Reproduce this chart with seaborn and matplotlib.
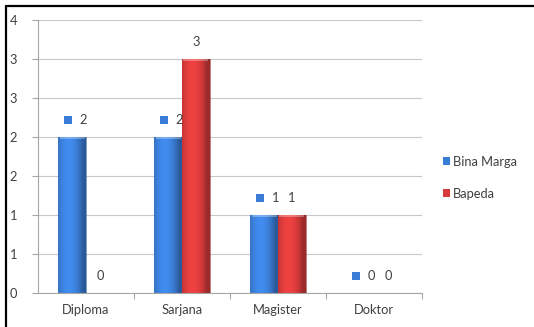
import numpy as np
import pandas as pd
import matplotlib
matplotlib.use("Agg")
import matplotlib.pyplot as plt
from matplotlib.patches import Patch
from matplotlib.lines import Line2D
import seaborn as sns

# Education level counts per institution
categories = ["Diploma", "Sarjana", "Magister", "Doktor"]
bina_marga = [2, 2, 1, 0]
bapeda = [0, 3, 1, 0]
series_names = ["Bina Marga", "Bapeda"]
ytick_values = [0, 0.5, 1, 1.5, 2, 2.5, 3, 3.5]
ytick_labels = ["0", "1", "1", "2", "2", "3", "3", "4"]

df = pd.DataFrame({
    "Pendidikan": categories * 2,
    "Jumlah": bina_marga + bapeda,
    "Instansi": [series_names[0]] * len(categories) + [series_names[1]] * len(categories),
})

sns.set_theme(style="white")
plt.rcParams["font.family"] = ["Lato", "DejaVu Sans"]

base_colors = {"Bina Marga": "#3a7dd6", "Bapeda": "#d63a3a"}
text_color = "#404040"
fs = 9.3

fig = plt.figure(figsize=(5.34, 3.27), dpi=100)
ax = fig.add_axes([38 / 534, 34 / 327, 384 / 534, 273 / 327])

sns.barplot(data=df, x="Pendidikan", y="Jumlah", hue="Instansi",
            hue_order=series_names, order=categories,
            palette=base_colors, width=0.58, gap=0, ax=ax,
            errorbar=None, legend=False, saturation=1)

ax.set_xlim(-0.5, len(categories) - 0.5)
ax.set_ylim(0, 3.5)

# Shaded, bevelled look for each bar
def shade(hex_color, dark, light):
    c = np.array(matplotlib.colors.to_rgb(hex_color))
    xs = np.linspace(0, 1, 64)
    prof = 1 - 0.9 * (xs - 0.38) ** 2 * 4
    prof = np.clip(prof, 0, 1)
    rows = [np.clip(c * (dark + (light - dark) * p), 0, 1) for p in prof]
    return np.array([rows])

bar_patches = [p for p in ax.patches if p.get_height() > 0]
for p in bar_patches:
    col = matplotlib.colors.to_hex(p.get_facecolor())
    grad = shade(col, 0.72, 1.12)
    x0, y0 = p.get_x(), p.get_y()
    w, h = p.get_width(), p.get_height()
    im = ax.imshow(grad, extent=[x0, x0 + w, y0, y0 + h], aspect="auto",
                   origin="lower", zorder=p.get_zorder() + 0.1, interpolation="bicubic")
    im.set_clip_path(p)
    # top bevel highlight
    ax.plot([x0 + w * 0.05, x0 + w * 0.95], [y0 + h - 0.012, y0 + h - 0.012],
            color="white", alpha=0.35, lw=1.2, zorder=p.get_zorder() + 0.2,
            solid_capstyle="butt")
    p.set_edgecolor(matplotlib.colors.to_rgba("black", 0.25))
    p.set_linewidth(0.5)

ax.set_xlim(-0.5, len(categories) - 0.5)
ax.set_ylim(0, 3.5)

# Value labels
bar_w = 0.58 / 2
lift = matplotlib.transforms.ScaledTranslation(0, 12.3 / 72, fig.dpi_scale_trans)
for i, (a, b) in enumerate(zip(bina_marga, bapeda)):
    xa = i - bar_w / 2
    xb = i + bar_w / 2
    ax.annotate(str(a), (xa, a), xytext=(8, 12.3), textcoords="offset points",
                ha="center", va="center", fontsize=fs, color=text_color)
    ax.plot([xa - 0.045], [a], marker="s", markersize=5.4,
            color=base_colors["Bina Marga"], markeredgewidth=0,
            transform=ax.transData + lift, clip_on=False, zorder=5)
    ax.annotate(str(b), (xb, b), xytext=(0, 12.3), textcoords="offset points",
                ha="center", va="center", fontsize=fs, color=text_color)

# Axes styling
ax.set_yticks(ytick_values)
ax.set_yticklabels(ytick_labels)
ax.yaxis.grid(True, color="#c8c8c8", linewidth=0.8)
ax.set_axisbelow(True)
ax.set_xlabel("")
ax.set_ylabel("")
for side in ("top", "right"):
    ax.spines[side].set_visible(False)
for side in ("left", "bottom"):
    ax.spines[side].set_color("#a6a6a6")
    ax.spines[side].set_linewidth(0.8)
ax.tick_params(axis="y", left=True, length=4, width=0.8, color="#a6a6a6",
               labelsize=fs, labelcolor=text_color, pad=11)
ax.tick_params(axis="x", which="major", bottom=False, labelsize=fs,
               labelcolor=text_color, pad=2)
ax.set_xticks(np.arange(0.5, len(categories) - 0.5 + 0.01, 1), minor=True)
ax.tick_params(axis="x", which="minor", bottom=True, length=4, width=0.8,
               color="#a6a6a6")

# Legend
handles = [Patch(facecolor=base_colors[n], edgecolor="none") for n in series_names]
leg = ax.legend(handles, series_names, loc="center left",
                bbox_to_anchor=(1.025, 0.423), frameon=False,
                handlelength=0.55, handleheight=0.55, handletextpad=0.2,
                labelspacing=1.55, fontsize=fs)
for t in leg.get_texts():
    t.set_color(text_color)

# Outer frame
fig.add_artist(Line2D([6 / 534, 6 / 534], [0, 1 - 6 / 327], transform=fig.transFigure,
                      color="black", lw=1.6))
fig.add_artist(Line2D([6 / 534, 1], [1 - 6 / 327, 1 - 6 / 327], transform=fig.transFigure,
                      color="black", lw=1.6))

fig.savefig("out.png", dpi=100)
